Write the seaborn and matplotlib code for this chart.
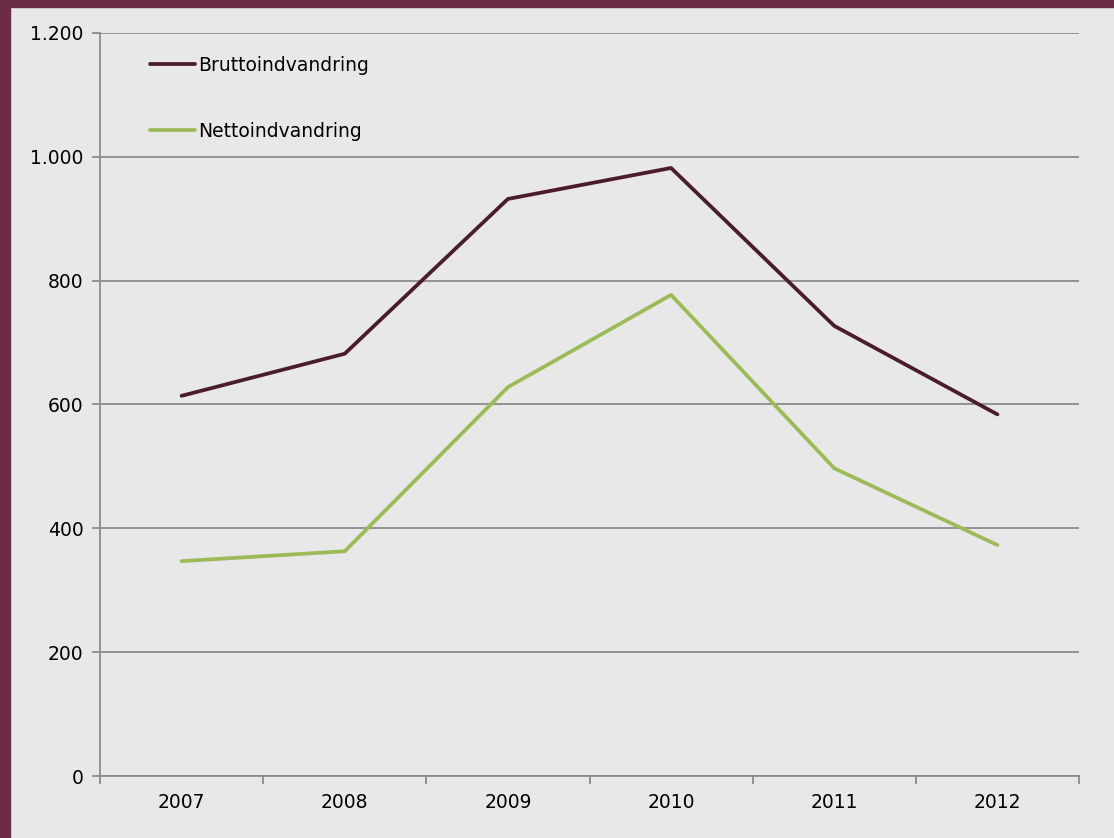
import pandas as pd
import seaborn as sns
import matplotlib.pyplot as plt
from matplotlib.patches import Rectangle
from matplotlib.ticker import FuncFormatter, FixedLocator

years = ['2007', '2008', '2009', '2010', '2011', '2012']
brutto = [614, 682, 932, 982, 727, 584]
netto = [347, 363, 628, 777, 497, 373]
series_names = ['Bruttoindvandring', 'Nettoindvandring']
colors = ['#4b1c2e', '#9bbb59']


def main() -> None:
    df = pd.DataFrame({
        'år': years * 2,
        'antal': brutto + netto,
        'serie': [series_names[0]] * len(years) + [series_names[1]] * len(years),
    })

    sns.set_style('white')
    plt.rcParams['font.family'] = ['DejaVu Sans']
    plt.rcParams['text.color'] = 'black'
    plt.rcParams['xtick.color'] = 'black'
    plt.rcParams['ytick.color'] = 'black'

    bg = '#e8e8e8'
    grid_c = '#8c8c8c'
    fig = plt.figure(figsize=(11.14, 8.38), dpi=100, facecolor=bg)
    ax = fig.add_axes([100 / 1114, 1 - 776 / 838, 979 / 1114, 743 / 838])
    ax.set_facecolor(bg)

    sns.lineplot(
        data=df, x='år', y='antal', hue='serie',
        palette=colors, linewidth=2.7, ax=ax, sort=False
    )

    ax.set_xlim(-0.5, len(years) - 0.5)
    ax.set_ylim(0, 1200)
    ax.set_yticks(range(0, 1201, 200))
    ax.yaxis.set_major_formatter(FuncFormatter(lambda v, p: f'{int(v):,}'.replace(',', '.')))
    ax.xaxis.set_minor_locator(FixedLocator([i - 0.5 for i in range(len(years) + 1)]))
    ax.tick_params(axis='x', which='major', bottom=True, length=0, pad=12, labelsize=13.5,
                   labelcolor='black')
    ax.tick_params(axis='x', which='minor', bottom=True, length=6, width=1.3, color=grid_c,
                   direction='out')
    ax.tick_params(axis='y', left=True, length=6, width=1.3, color=grid_c, pad=6,
                   labelsize=13.5, direction='out', labelcolor='black')
    ax.set_xlabel('')
    ax.set_ylabel('')

    ax.grid(axis='y', color=grid_c, linewidth=1.3)
    ax.set_axisbelow(True)
    for side in ['top', 'right']:
        ax.spines[side].set_visible(False)
    for side in ['left', 'bottom']:
        ax.spines[side].set_color(grid_c)
        ax.spines[side].set_linewidth(1.3)

    leg = ax.legend(
        loc='upper left', bbox_to_anchor=(0.051, 0.969), frameon=False,
        fontsize=13.5, labelspacing=2.5, handlelength=2.4, handletextpad=0.15,
        borderpad=0, borderaxespad=0
    )
    for t in leg.get_texts():
        t.set_color('black')

    # maroon frame on top and left
    fig.patches.append(Rectangle((0, 1 - 7 / 838), 1, 7 / 838, transform=fig.transFigure,
                                 color='#6b2c48', zorder=10))
    fig.patches.append(Rectangle((0, 0), 10 / 1114, 1, transform=fig.transFigure,
                                 color='#6b2c48', zorder=10))

    fig.savefig('out.png', dpi=100, facecolor=bg)


if __name__ == '__main__':
    main()
